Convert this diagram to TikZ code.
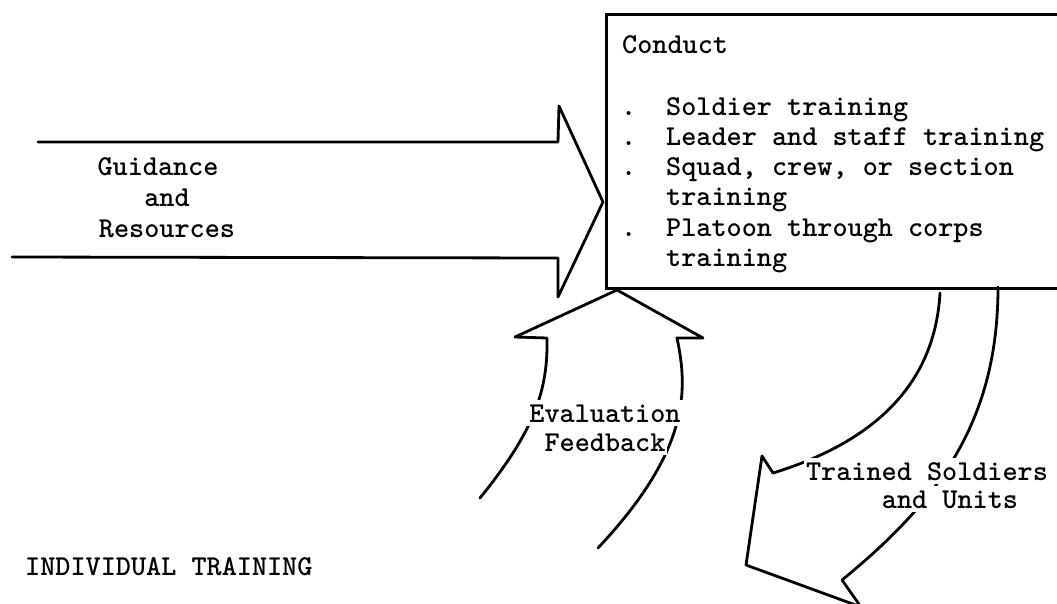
\documentclass[tikz,border=0pt]{standalone}
\usepackage{fontspec}
\begin{document}
\begin{tikzpicture}[x=1pt,y=-1pt,
  lbl/.style={font=\fontsize{28.8}{30}\selectfont\ttfamily\bfseries, inner sep=0pt},
  gap/.style={lbl, fill=white, inner xsep=2pt, inner ysep=4pt},
  outline/.style={line width=2.8pt, line join=round, line cap=round}]
\useasboundingbox (0,0) rectangle (1057,603);
\clip (0,0) rectangle (1057,603);
% box
\node[draw, line width=2.8pt, minimum width=480pt, minimum height=274pt, anchor=north west, inner sep=0pt] (box) at (605,13) {};
\node[lbl, anchor=base west] (conduct) at (622,53) {Conduct};
\node[lbl, anchor=base west] (d1) at (621,115) {.};
\node[lbl, anchor=base west] (t1) at (666,115) {Soldier training};
\node[lbl, anchor=base west] (d2) at (621,145) {.};
\node[lbl, anchor=base west] (t2) at (666,145) {Leader and staff training};
\node[lbl, anchor=base west] (d3) at (621,175) {.};
\node[lbl, anchor=base west] (t3) at (666,175) {Squad, crew, or section};
\node[lbl, anchor=base west] (t3b) at (666,205) {training};
\node[lbl, anchor=base west] (d4) at (621,236) {.};
\node[lbl, anchor=base west] (t4) at (666,236) {Platoon through corps};
\node[lbl, anchor=base west] (t4b) at (666,266) {training};
% left input arrow
\coordinate (ltip) at (603,202);
\draw[outline] (38,142) -- (558,142) -- (559,106) -- (ltip) -- (558,297) -- (558,258) -- (12,257);
\node[lbl, anchor=base] (g1) at (158,175) {Guidance};
\node[lbl, anchor=base] (g2) at (167,206) {and};
\node[lbl, anchor=base] (g3) at (167,237) {Resources};
% bottom feedback arrow
\coordinate (btip) at (617,290);
\draw[outline] (480,498) .. controls (535,430) and (548,390) .. (547,338) -- (515,337) -- (btip) -- (703,338) -- (677,338) .. controls (688,390) and (690,450) .. (598,548);
\node[gap, anchor=base] (e1) at (605,422) {Evaluation};
\node[gap, anchor=base] (e2) at (605,451) {Feedback};
% output arrow
\draw[outline] (940,293) .. controls (935,380) and (880,440) .. (773,473) -- (762,456) -- (746,565) -- (861,607) -- (842,580) .. controls (940,500) and (998,420) .. (998,287);
\node[gap, anchor=base] (o1) at (927,480) {Trained Soldiers};
\node[gap, anchor=base] (o2) at (950,508) {and Units};
% title
\node[lbl, anchor=base west] (title) at (25,575) {INDIVIDUAL TRAINING};
\end{tikzpicture}
\end{document}
